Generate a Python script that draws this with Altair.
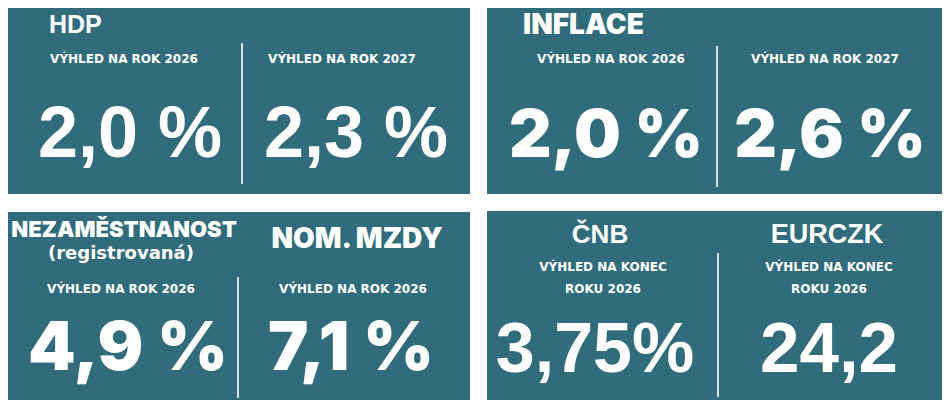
import altair as alt
import pandas as pd

# ---- content -------------------------------------------------------------
panel_titles = ["HDP", "INFLACE", "NEZAMĚSTNANOST", "NOM. MZDY", "ČNB", "EURCZK"]
title_note = "(registrovaná)"
horizon_2026 = "VÝHLED NA ROK 2026"
horizon_2027 = "VÝHLED NA ROK 2027"
horizon_end_1 = "VÝHLED NA KONEC"
horizon_end_2 = "ROKU 2026"
values = ["2,0 %", "2,3 %", "2,0 %", "2,6 %", "4,9 %", "7,1 %", "3,75%", "24,2"]

# ---- layout (page pixel coordinates) -------------------------------------
W, H = 934, 392
xs = alt.Scale(domain=[8, 8 + W], nice=False, zero=False)
ys = alt.Scale(domain=[8, 8 + H], nice=False, zero=False, reverse=True)

TEAL = "#306c7c"
ARIAL = "Liberation Sans"
GEO = "Inter"
SMALL = "DejaVu Sans"

panels = pd.DataFrame({
    "x": [4, 487, 4, 487], "x2": [470, 945, 470, 945],
    "y": [3, 3, 212, 211], "y2": [194, 194, 405, 404],
})
dividers = pd.DataFrame({
    "x": [242, 717, 238, 718], "y": [43, 46, 277, 253], "y2": [184, 187, 398, 397],
})

rows = []
def add(text, x, y, size, font, weight=700, align="center"):
    rows.append(dict(text=text, x=x, y=y, size=size, font=font, weight=weight, align=align))

# panel 1: HDP (Arial style)
add(panel_titles[0], 49, 33, 25, ARIAL, align="left")
add(horizon_2026, 124, 63, 12, SMALL)
add(horizon_2027, 342, 63, 12, SMALL)
add(values[0], 130, 157, 72, ARIAL)
add(values[1], 356, 157, 72, ARIAL)
# panel 2: INFLACE (geometric style)
add(panel_titles[1], 523, 34, 28, GEO, weight=900, align="left")
add(horizon_2026, 611, 63, 12, SMALL)
add(horizon_2027, 825, 63, 12, SMALL)
add(values[2], 606, 157, 66, GEO, weight=900)
add(values[3], 830, 157, 66, GEO, weight=900)
# panel 3: NEZAMĚSTNANOST / NOM. MZDY (geometric style)
add(panel_titles[2], 124, 237, 22, GEO, weight=900)
add(title_note, 121, 259, 18, SMALL)
add(panel_titles[3], 357, 248, 28, GEO, weight=900)
add(horizon_2026, 121, 293, 12, SMALL)
add(horizon_2026, 353, 293, 12, SMALL)
add(values[4], 128, 370, 68, GEO, weight=900)
add(values[5], 351, 370, 68, GEO, weight=900)
# panel 4: ČNB / EURCZK (Arial style)
add(panel_titles[4], 600, 243, 26, ARIAL)
add(panel_titles[5], 827, 243, 27, ARIAL)
add(horizon_end_1, 603, 271, 12, SMALL)
add(horizon_end_2, 603, 293, 12, SMALL)
add(horizon_end_1, 829, 271, 12, SMALL)
add(horizon_end_2, 829, 293, 12, SMALL)
add(values[6], 595, 372, 70, ARIAL)
add(values[7], 829, 372, 71, ARIAL)

texts = pd.DataFrame(rows)

X = lambda f="x": alt.X(f"{f}:Q", scale=xs, axis=None)
Y = lambda f="y": alt.Y(f"{f}:Q", scale=ys, axis=None)

rect_layer = alt.Chart(panels).mark_rect(color=TEAL).encode(
    x=X(), x2="x2:Q", y=Y(), y2="y2:Q"
)
rule_layer = alt.Chart(dividers).mark_rule(color="white", strokeWidth=1.6).encode(
    x=X(), y=Y(), y2="y2:Q"
)

layers = [rect_layer, rule_layer]
for (font, weight, align), sub in texts.groupby(["font", "weight", "align"]):
    layers.append(
        alt.Chart(sub).mark_text(
            font=font, fontWeight=int(weight), align=align,
            baseline="alphabetic", color="white",
        ).encode(
            x=X(), y=Y(), text="text:N",
            size=alt.Size("size:Q", scale=None, legend=None),
        )
    )

chart = alt.layer(*layers).properties(
    width=W, height=H, padding=0, autosize=alt.AutoSizeParams(type="none"),
    background="white",
).configure_view(stroke=None)

chart.save("out.html", embed_options={"renderer": "svg", "actions": False})
